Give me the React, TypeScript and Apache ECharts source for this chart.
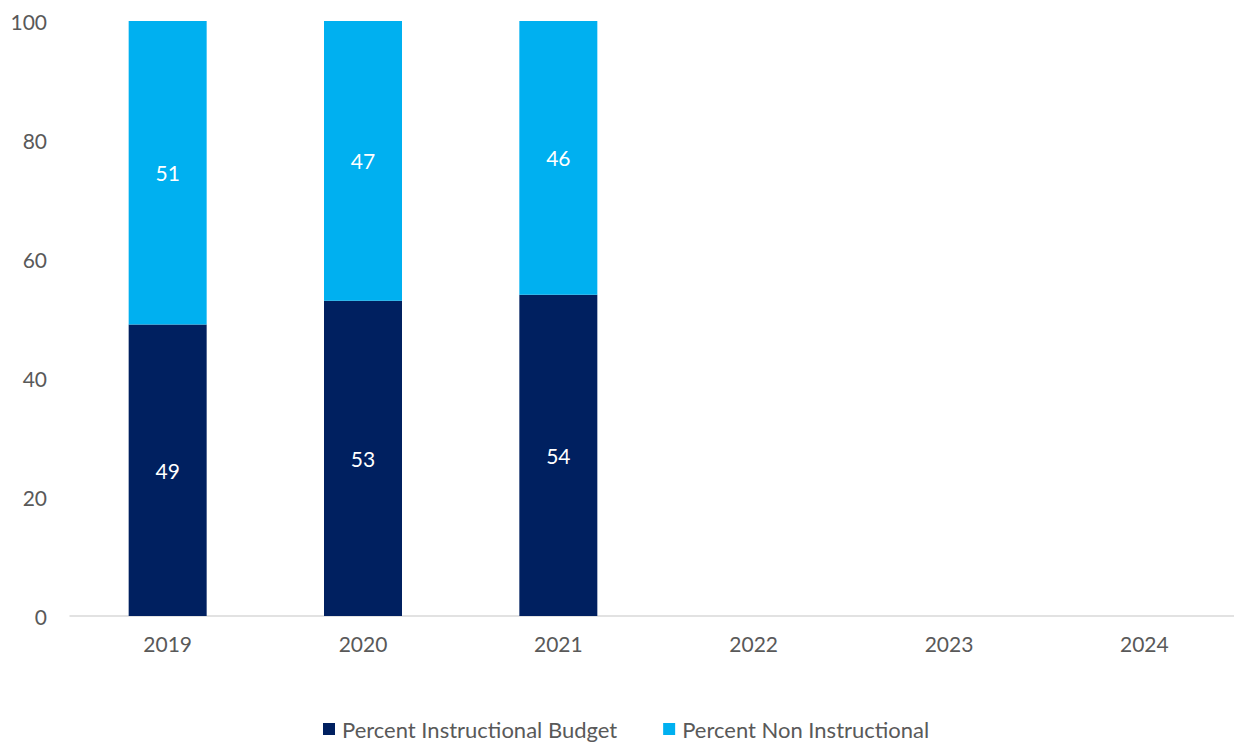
import React, { useEffect, useRef } from "react";
import * as echarts from "echarts";

const categories = ["2019", "2020", "2021", "2022", "2023", "2024"];
const instructional: (number | null)[] = [49, 53, 54, null, null, null];
const nonInstructional: (number | null)[] = [51, 47, 46, null, null, null];
const yTicks = [0, 20, 40, 60, 80, 100];

const FONT = "Lato, 'Open Sans', sans-serif";

export default function App() {
  const ref = useRef<HTMLDivElement>(null);
  useEffect(() => {
    if (!ref.current) return;
    const chart = echarts.init(ref.current, undefined, { renderer: "svg" });
    chart.setOption({
      animation: false,
      textStyle: { fontFamily: FONT },
      grid: { left: 70, right: 8, top: 21, bottom: 132, containLabel: false },
      legend: {
        bottom: 3,
        left: 318,
        itemWidth: 12,
        itemHeight: 12,
        itemGap: 46,
        icon: "rect",
        textStyle: { color: "#595959", fontSize: 22, fontFamily: FONT, padding: [0, 0, 0, 2] },
        data: ["Percent Instructional Budget", "Percent Non Instructional"],
      },
      xAxis: {
        type: "category",
        data: categories,
        axisLine: { lineStyle: { color: "#D9D9D9", width: 1.5 } },
        axisTick: { show: false },
        axisLabel: { color: "#595959", fontSize: 21, margin: 17, fontFamily: FONT },
      },
      yAxis: {
        type: "value",
        min: yTicks[0],
        max: yTicks[yTicks.length - 1],
        interval: 20,
        splitLine: { show: false },
        axisLine: { show: false },
        axisTick: { show: false },
        axisLabel: { color: "#595959", fontSize: 21, margin: 23, fontFamily: FONT },
      },
      series: [
        {
          name: "Percent Instructional Budget",
          type: "bar",
          stack: "total",
          barWidth: 78,
          data: instructional,
          itemStyle: { color: "#002060" },
          label: { show: true, position: "inside", color: "#FFFFFF", fontSize: 21, fontFamily: FONT },
        },
        {
          name: "Percent Non Instructional",
          type: "bar",
          stack: "total",
          barWidth: 78,
          data: nonInstructional,
          itemStyle: { color: "#00B0F0" },
          label: { show: true, position: "inside", color: "#FFFFFF", fontSize: 21, fontFamily: FONT },
        },
      ],
    });
    return () => chart.dispose();
  }, []);
  return (
    <div style={{ position: "fixed", left: 0, top: 0, width: 1234, height: 748, overflow: "hidden", background: "#fff" }}>
      <div ref={ref} style={{ position: "absolute", left: 0, top: 0, width: 1250, height: 748 }} />
    </div>
  );
}
